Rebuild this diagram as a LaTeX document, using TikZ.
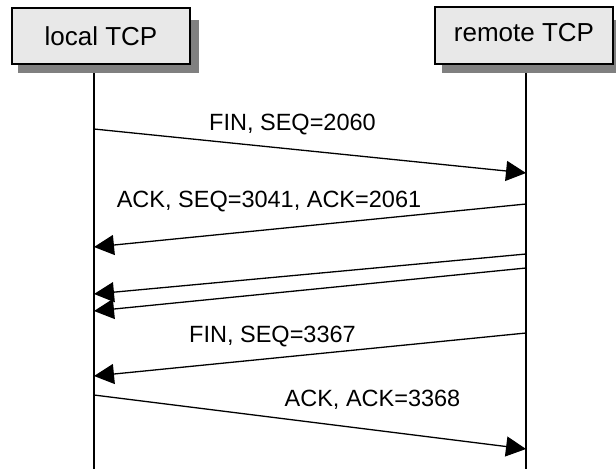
\documentclass[tikz,border=0pt]{standalone}
\usepackage{fontspec}
\setmainfont{Liberation Sans}
\usetikzlibrary{arrows.meta}
\definecolor{boxfill}{HTML}{E8E8E8}
\definecolor{shadowgray}{HTML}{808080}
\begin{document}
\begin{tikzpicture}[x=1pt,y=-1pt,
  ent/.style={draw=black, line width=1.2pt, fill=boxfill, minimum width=178pt, minimum height=56pt, inner sep=0pt, font=\fontsize{26}{30}\selectfont},
  life/.style={line width=1.3pt},
  msg/.style={line width=1.3pt, -{Triangle[length=20pt,width=20pt]}},
  lbl/.style={anchor=base, inner sep=0pt, font=\fontsize{23.5}{28}\selectfont}]
\useasboundingbox (0,0) rectangle (616,469);
\fill[white] (0,0) rectangle (616,469);
% lifelines
\coordinate (lt) at (94,64);
\coordinate (lb) at (94,469);
\coordinate (rt) at (526,64);
\coordinate (rb) at (526,469);
\draw[life] (lt) -- (lb);
\draw[life] (rt) -- (rb);
% shadows
\fill[shadowgray] (18,73) rectangle (199,20);
\fill[shadowgray] (442,73) rectangle (622,20);
% boxes
\node[ent] (local) at (101,36) {local TCP};
\node[ent, minimum height=57pt, text height=19pt, text depth=6.6pt] (remote) at (524,35.5) {remote TCP};
% message endpoints
\coordinate (a1) at (94,129);  \coordinate (b1) at (526,173);
\coordinate (a2) at (526,204); \coordinate (b2) at (94,247);
\coordinate (a3) at (526,254); \coordinate (b3) at (94,294);
\coordinate (a4) at (526,268); \coordinate (b4) at (94,311);
\coordinate (a5) at (526,333); \coordinate (b5) at (94,376);
\coordinate (a6) at (94,395);  \coordinate (b6) at (526,449);
\draw[msg] (a1) -- (b1);
\draw[msg] (a2) -- (b2);
\draw[msg] (a3) -- (b3);
\draw[msg] (a4) -- (b4);
\draw[msg] (a5) -- (b5);
\draw[msg] (a6) -- (b6);
% labels
\node[lbl] (l1) at (292.5,130.5) {FIN, SEQ=2060};
\node[lbl] (l2) at (269,207) {ACK, SEQ=3041, ACK=2061};
\node[lbl] (l5) at (272.5,342) {FIN, SEQ=3367};
\node[lbl] (l6) at (372.5,406) {ACK, ACK=3368};
\end{tikzpicture}
\end{document}
